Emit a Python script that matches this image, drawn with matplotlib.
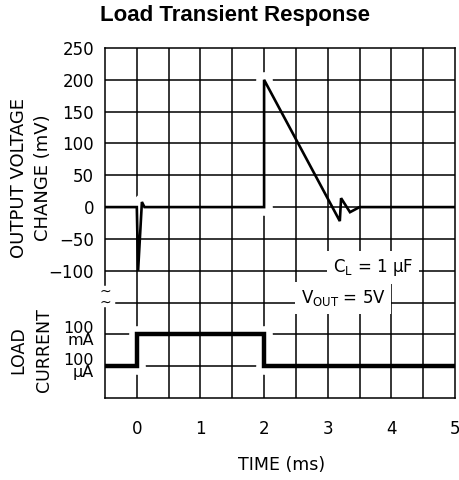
import numpy as np
import matplotlib
matplotlib.use('Agg')
import matplotlib.pyplot as plt
import matplotlib.transforms as mtransforms

plt.rcParams['font.family'] = 'DejaVu Sans'
plt.rcParams['mathtext.default'] = 'regular'

# ---- data ----
v_time = [-0.5, 0.0, 0.02, 0.08, 0.12, 2.0, 2.0, 3.19, 3.21, 3.35, 3.5, 5.0]   # ms
v_mv   = [0, 0, -100, 8, 0, 0, 200, -22, 14, -8, 0, 0]                          # mV

i_time  = [-0.5, 0.0, 0.0, 2.0, 2.0, 5.0]                                       # ms
i_level = ['100uA', '100uA', '100mA', '100mA', '100uA', '100uA']

v_ticks = [250, 200, 150, 100, 50, 0, -50, -100]
t_ticks = [0, 1, 2, 3, 4, 5]

# current levels are drawn in the lower strip of the same grid
level_pos = {'100mA': -200, '100uA': -250}
level_lbl = {'100mA': '100\nmA', '100uA': '100\n\u00b5A'}

lw_grid = 1.1

fig = plt.figure(figsize=(4.59, 4.8), dpi=100)
ax = fig.add_axes([105/459, 1-398/480, 350/459, 350/480])
ax.set_xlim(-0.5, 5)
ax.set_ylim(-300, 250)

# grid (every 0.5 ms / 50 mV)
for x in np.arange(0, 5, 0.5):
    ax.axvline(x, color='black', lw=lw_grid, zorder=1)
for y in np.arange(-250, 250, 50):
    xmin = 0.03 if y == -150 else 0.0
    ax.axhline(y, xmin=xmin, color='black', lw=lw_grid, zorder=1)

# white breaks in the grid around the corners of the traces
i_y = [level_pos[l] for l in i_level]
corner_t = [0.08, 2.0, 2.0] + i_time[1:5]
corner_y = [8, 0, 200] + i_y[1:5]
ax.plot(corner_t, corner_y, 'o', color='white', ms=12, mec='none', zorder=2)

# traces
ax.plot(v_time, v_mv, color='black', lw=1.9, zorder=3, solid_joinstyle='miter')
ax.plot(i_time, i_y, color='black', lw=3.2, zorder=3, solid_joinstyle='miter')

# ticks
yt = v_ticks + [level_pos['100mA'], level_pos['100uA']]
ylab = [str(v).replace('-', '\u2212') for v in v_ticks] + [level_lbl['100mA'], level_lbl['100uA']]
ax.set_yticks(yt)
ax.set_yticklabels(ylab, fontsize=12, multialignment='right')
for lbl in ax.get_yticklabels()[-2:]:
    lbl.set_fontsize(11.5)
    lbl.set_linespacing(0.78)
ax.set_xticks(t_ticks)
ax.set_xticklabels([str(t) for t in t_ticks], fontsize=12)
ax.tick_params(axis='y', length=0, pad=8)
ax.tick_params(axis='x', length=0, pad=16)

# spines, left one with a break
for s in ['top', 'right', 'bottom']:
    ax.spines[s].set_linewidth(lw_grid)
    ax.spines[s].set_zorder(5)
ax.spines['left'].set_visible(False)
trans = mtransforms.blended_transform_factory(ax.transAxes, ax.transData)
ax.plot([0, 0], [250, -122], color='black', lw=lw_grid, transform=trans, clip_on=False, zorder=5)
ax.plot([0, 0], [-158, -300], color='black', lw=lw_grid, transform=trans, clip_on=False, zorder=5)
ax.text(0.0, -141, '~\n~', transform=trans, ha='center', va='center', fontsize=10,
        linespacing=0.75, zorder=6)

# notes
box = dict(boxstyle='square,pad=0.35', fc='white', ec='none')
ax.text(3.71, -102, r'C$_{L}$ = 1 $\mu$F', ha='center', va='baseline', fontsize=12, bbox=box, zorder=4)
ax.text(3.24, -151, r'V$_{OUT}$ = 5V', ha='center', va='baseline', fontsize=12, bbox=box, zorder=4)

# axis labels
fig.text(0.068, 1-178/480, 'OUTPUT VOLTAGE\nCHANGE (mV)', rotation=90, ha='center', va='center',
         fontsize=13, multialignment='center', linespacing=1.45)
fig.text(0.068, 1-350/480, 'LOAD\nCURRENT', rotation=90, ha='center', va='center',
         fontsize=12.5, multialignment='center', linespacing=1.5)
fig.text(282/459, 1-465/480, 'TIME (ms)', ha='center', va='center', fontsize=12.5)
fig.text(235/459, 1-15/480, 'Load Transient Response', ha='center', va='center',
         fontsize=16, fontweight='bold', family='Liberation Sans')

fig.savefig('out.png', dpi=100)
